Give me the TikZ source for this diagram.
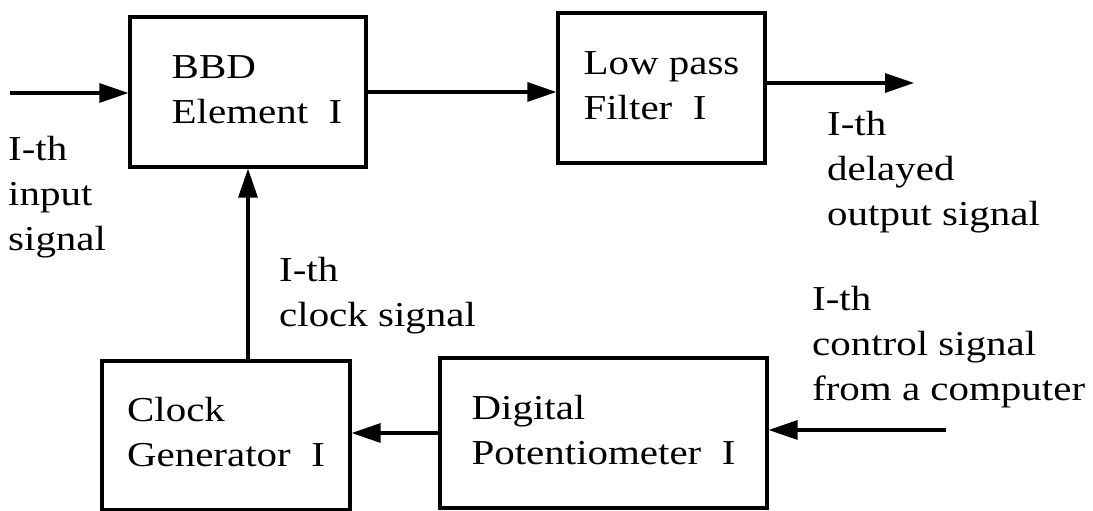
\documentclass[tikz,border=0pt]{standalone}
\usepackage{fontspec}
\setmainfont{Liberation Serif}
\usepackage{graphicx}
\usetikzlibrary{arrows.meta,positioning,calc}

% text of the scan is wider than it is tall
\newcommand{\widetext}[1]{\scalebox{1.17}[1]{\begin{tabular}{@{}l@{}}#1\end{tabular}}}

\begin{document}
\begin{tikzpicture}[x=1pt, y=1pt,
    every node/.style={font=\fontsize{35}{45}\selectfont, inner sep=0pt},
    block/.style={draw, line width=3.2pt},
    lbl/.style={anchor=north west},
    sig/.style={draw, line width=3.2pt, -{Triangle[length=29pt,width=19pt]}}]
    \useasboundingbox (0,0) rectangle (1093,511);

    \node[block, minimum width=236pt, minimum height=150pt] (bbd) at (248,419)
        {\hspace*{18pt}\widetext{BBD\\Element\ \ I}};
    \node[block, minimum width=207pt, minimum height=150pt] (lpf) at (661.5,423)
        {\widetext{Low pass\\Filter\ \ I}};
    \node[block, minimum width=248pt, minimum height=149pt] (clk) at (226,75.5)
        {\widetext{Clock\\Generator\ \ I}};
    \node[block, minimum width=327pt, minimum height=150pt] (pot) at (603.5,78)
        {\widetext{Digital\\Potentiometer\ \ I}};

    \coordinate (in) at (10,418);
    \coordinate (out) at (914,428);
    \coordinate (ctl) at (946,81);

    \node[lbl] (inlbl) at (8,382.5) {\widetext{I-th\\input\\signal}};
    \node[lbl] (outlbl) at (827,407.5) {\widetext{I-th\\delayed\\output signal}};
    \node[lbl] (clklbl) at (279,261.5) {\widetext{I-th\\clock signal}};
    \node[lbl] (ctllbl) at (812,232.5) {\widetext{I-th\\control signal\\from a computer}};

    \draw[sig] (in) -- (in -| bbd.west);
    \draw[sig] (bbd.east) -- (bbd.east -| lpf.west);
    \draw[sig] (lpf.east |- out) -- (out);
    \draw[sig] (bbd.south |- clk.north) -- (bbd.south);
    \draw[sig] (pot.west) -- (pot.west -| clk.east);
    \draw[sig] (ctl) -- (ctl -| pot.east);
\end{tikzpicture}
\end{document}
